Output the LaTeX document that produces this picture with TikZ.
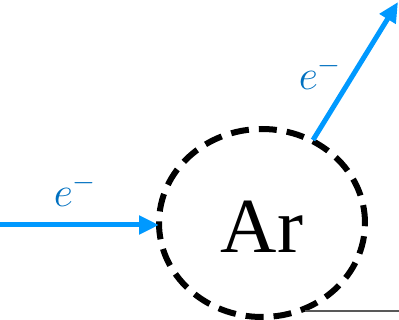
\documentclass[tikz,border=0pt]{standalone}
\usepackage{fix-cm}
\usepackage{fontspec}
\setmainfont{Liberation Serif}
\usetikzlibrary{arrows.meta,shapes.geometric}
\definecolor{arrowblue}{RGB}{0,153,255}
\definecolor{textblue}{RGB}{0,112,192}
\begin{document}
\begin{tikzpicture}[x=1pt,y=-1pt,
  eflow/.style={draw=arrowblue,line width=5pt,-{Triangle[length=20pt,width=18pt]}},
  elabel/.style={text=textblue,font=\fontsize{42}{46}\selectfont,inner sep=0pt},
  atom/.style={draw=black,line width=6pt,dash pattern=on 18pt off 10pt,ellipse,minimum width=206pt,minimum height=188pt,inner sep=0pt},
  grayline/.style={draw=gray!70!black,line width=1.5pt}]
\useasboundingbox (0,0) rectangle (399,320);
\node[atom] (ar) at (262,223) {};
\node[font=\fontsize{78}{80}\selectfont,inner sep=0pt] (artext) at (262,227) {Ar};
\coordinate (in0) at (0,225);
\coordinate (inend) at (159,225);
\draw[eflow] (in0) -- (inend);
\coordinate (out0) at (313,140);
\coordinate (outend) at (398,2);
\draw[eflow] (out0) -- (outend);
\node[elabel] (e1) at (75,190) {$e^-$};
\node[elabel] (e2) at (320,73) {$e^-$};
\coordinate (g0) at (305,311);
\coordinate (g1) at (399,311);
\draw[grayline] (g0) -- (g1);
\end{tikzpicture}
\end{document}
